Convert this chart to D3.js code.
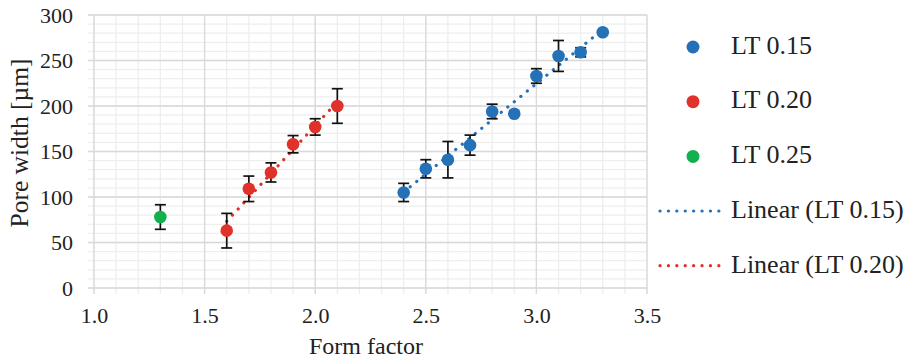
<!DOCTYPE html>
<html>
<head>
<meta charset="utf-8">
<script src="https://cdn.jsdelivr.net/npm/d3@7"></script>
<style>
  body { margin: 0; background: #fff; }
</style>
</head>
<body>
<svg id="chart" width="916" height="361"></svg>
<script>
// form factor / pore width values
const ff015 = [2.4, 2.5, 2.6, 2.7, 2.8, 2.9, 3.0, 3.1, 3.2, 3.3];
const pw015 = [105, 131, 141, 157, 194, 191.5, 233, 255, 259, 281];
const err015 = [10, 10, 20, 11, 8, 0, 8, 17, 5, 0];

const ff020 = [1.6, 1.7, 1.8, 1.9, 2.0, 2.1];
const pw020 = [63, 109, 127, 158, 177, 200];
const err020 = [19, 14, 10.5, 9.5, 9, 19];

const ff025 = [1.3];
const pw025 = [78];
const err025 = [13.5];

const xTicks = [1.0, 1.5, 2.0, 2.5, 3.0, 3.5];
const yTicks = [0, 50, 100, 150, 200, 250, 300];

const colors = { blue: '#2471B7', red: '#E0322A', green: '#13B04F' };
const FONT = '"Liberation Serif"';

const series = [
    { name: 'LT 0.15', x: ff015, y: pw015, e: err015, color: colors.blue, trend: true },
    { name: 'LT 0.20', x: ff020, y: pw020, e: err020, color: colors.red, trend: true },
    { name: 'LT 0.25', x: ff025, y: pw025, e: err025, color: colors.green, trend: false }
];

const margin = { top: 15, left: 94 };
const width = 553, height = 273;

const svg = d3.select('#chart');
svg.append('rect').attr('width', 916).attr('height', 361).attr('fill', '#fff');

const g = svg.append('g').attr('transform', `translate(${margin.left},${margin.top})`);

const x = d3.scaleLinear().domain([1.0, 3.5]).range([0, width]);
const y = d3.scaleLinear().domain([0, 300]).range([height, 0]);

// minor grid
const xMinor = d3.range(10, 36).map(v => v / 10);
const yMinor = d3.range(0, 301, 10);

g.append('g').selectAll('line').data(yMinor).join('line')
    .attr('x1', -6).attr('x2', width)
    .attr('y1', d => y(d)).attr('y2', d => y(d))
    .attr('stroke', '#eeeeee').attr('stroke-width', 1.3);
g.append('g').selectAll('line').data(xMinor).join('line')
    .attr('x1', d => x(d)).attr('x2', d => x(d))
    .attr('y1', 0).attr('y2', height + 6)
    .attr('stroke', '#eeeeee').attr('stroke-width', 1.3);

// major grid
g.append('g').selectAll('line').data(yTicks).join('line')
    .attr('x1', -6).attr('x2', width)
    .attr('y1', d => y(d)).attr('y2', d => y(d))
    .attr('stroke', '#d9d9d9').attr('stroke-width', 1.3);
g.append('g').selectAll('line').data(xTicks).join('line')
    .attr('x1', d => x(d)).attr('x2', d => x(d))
    .attr('y1', 0).attr('y2', height + 6)
    .attr('stroke', '#d9d9d9').attr('stroke-width', 1.3);

// axes labels
const xAxis = g.append('g').attr('transform', `translate(0,${height})`)
    .call(d3.axisBottom(x).tickValues(xTicks).tickFormat(d3.format('.1f')).tickSize(0).tickPadding(19));
const yAxis = g.append('g')
    .call(d3.axisLeft(y).tickValues(yTicks).tickSize(0).tickPadding(21));
[xAxis, yAxis].forEach(a => {
    a.select('.domain').remove();
    a.selectAll('text').style('font-family', FONT)
        .attr('font-size', 22).attr('fill', '#222');
});

svg.append('text')
    .attr('x', 366).attr('y', 354)
    .attr('text-anchor', 'middle').attr('font-size', 24).attr('fill', '#222')
    .style('font-family', FONT)
    .text('Form factor');
svg.append('text')
    .attr('transform', 'translate(28,143) rotate(-90)')
    .attr('text-anchor', 'middle').attr('font-size', 25.5).attr('fill', '#222')
    .style('font-family', FONT)
    .text('Pore width [µm]');

// linear trend lines (least squares)
function fit(xs, ys) {
    const mx = d3.mean(xs), my = d3.mean(ys);
    const sxy = d3.sum(xs, (v, i) => (v - mx) * (ys[i] - my));
    const sxx = d3.sum(xs, v => (v - mx) * (v - mx));
    const b = sxy / sxx;
    return v => my + b * (v - mx);
}
const dotted = { width: 3.2, dash: '0.1 8.3' };

series.filter(s => s.trend).forEach(s => {
    const f = fit(s.x, s.y);
    const ends = d3.extent(s.x);
    g.append('line')
        .attr('x1', x(ends[0])).attr('y1', y(f(ends[0])))
        .attr('x2', x(ends[1])).attr('y2', y(f(ends[1])))
        .attr('stroke', s.color).attr('stroke-width', dotted.width)
        .attr('stroke-linecap', 'round').attr('stroke-dasharray', dotted.dash);
});

// points + error bars
series.forEach(s => {
    const pts = s.x.map((v, i) => ({ x: v, y: s.y[i], e: s.e[i] }));
    const withErr = pts.filter(p => p.e > 0);
    const eb = g.append('g').attr('stroke', '#111').attr('stroke-width', 1.7);
    eb.selectAll('.v').data(withErr).join('line')
        .attr('x1', d => x(d.x)).attr('x2', d => x(d.x))
        .attr('y1', d => y(d.y - d.e)).attr('y2', d => y(d.y + d.e));
    eb.selectAll('.t').data(withErr.flatMap(d => [d.y - d.e, d.y + d.e].map(v => ({ x: d.x, v })))).join('line')
        .attr('x1', d => x(d.x) - 5.5).attr('x2', d => x(d.x) + 5.5)
        .attr('y1', d => y(d.v)).attr('y2', d => y(d.v));
    g.append('g').selectAll('circle').data(pts).join('circle')
        .attr('cx', d => x(d.x)).attr('cy', d => y(d.y)).attr('r', 6.3)
        .attr('fill', s.color);
});

// legend
const leg = svg.append('g');
series.forEach((s, i) => {
    const cy = 47 + i * 54.7;
    leg.append('circle').attr('cx', 693).attr('cy', cy).attr('r', 6.5).attr('fill', s.color);
    leg.append('text').attr('x', 731).attr('y', cy + 6.5)
        .attr('font-size', 26).attr('fill', '#222').style('font-family', FONT).text(s.name);
});
series.filter(s => s.trend).forEach((s, i) => {
    const cy = 211 + i * 54.7;
    leg.append('line').attr('x1', 660).attr('x2', 727).attr('y1', cy).attr('y2', cy)
        .attr('stroke', s.color).attr('stroke-width', dotted.width)
        .attr('stroke-linecap', 'round').attr('stroke-dasharray', dotted.dash);
    leg.append('text').attr('x', 731).attr('y', cy + 7)
        .attr('font-size', 26).attr('fill', '#222').style('font-family', FONT).text(`Linear (${s.name})`);
});
</script>
</body>
</html>
